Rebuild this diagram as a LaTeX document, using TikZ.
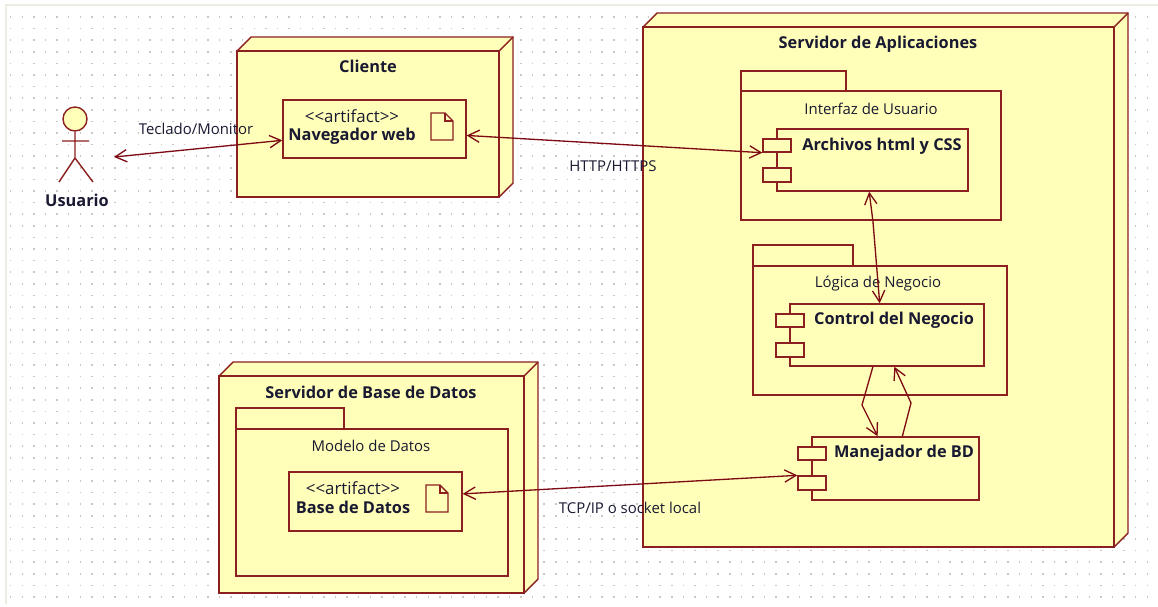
\documentclass[tikz,border=0pt]{standalone}
\usepackage{fontspec}
\setmainfont{Open Sans}
\usetikzlibrary{arrows.meta,fit}
\definecolor{umlfill}{RGB}{255,255,185}
\definecolor{umlline}{RGB}{140,32,32}
\definecolor{umlarrow}{RGB}{125,10,20}
\definecolor{umltext}{RGB}{25,25,50}
\definecolor{griddot}{RGB}{200,200,190}
\definecolor{canvasedge}{RGB}{236,236,226}
\tikzset{
  umlbox/.style={draw=umlline,fill=umlfill,line width=0.8pt,inner sep=0pt,rectangle},
  umlname/.style={font=\fontsize{9.3}{10}\selectfont\bfseries,text=umltext,inner sep=0pt},
  umlplain/.style={font=\fontsize{8.5}{9}\selectfont,text=umltext,inner sep=0pt},
  umlstereo/.style={font=\fontsize{9.6}{10}\selectfont,text=umltext,inner sep=0pt},
  link/.style={umlarrow,line width=0.75pt},
  biarrow/.style={link,{Straight Barb[length=6.5pt,width=7pt]}-{Straight Barb[length=6.5pt,width=7pt]}},
  onearrow/.style={link,-{Straight Barb[length=6.5pt,width=7pt]}}
}
% name, left, top, right, bottom
\newcommand{\boxat}[5]{\node[umlbox,fit={(#2,#3) (#4,#5)}] (#1) {};}
% 3d node: the back faces first, then the front
\newcommand{\solidat}[5]{
  \draw[umlbox] (#2,#3) -- (#2+14,#3-14) -- (#4+14,#3-14) -- (#4+14,#5-14) -- (#4,#5) -- cycle;
  \draw[umlbox] (#4,#3) -- (#4+14,#3-14);
  \boxat{#1}{#2}{#3}{#4}{#5}
}
% component: body and its two ports
\newcommand{\compat}[5]{
  \boxat{#1}{#2}{#3}{#4}{#5}
  \boxat{#1p}{#2-14}{#3+10}{#2+14}{#3+23}
  \boxat{#1q}{#2-14}{#3+39}{#2+14}{#3+53}
}
% document icon
\newcommand{\docicon}[2]{
  \draw[umlbox] (#1,#2) -- (#1+14,#2) -- (#1+22,#2+8) -- (#1+22,#2+27) -- (#1,#2+27) -- cycle;
  \draw[umlline,line width=0.8pt] (#1+14,#2) -- (#1+14,#2+8) -- (#1+22,#2+8);
}
\begin{document}
\begin{tikzpicture}[x=0.02cm,y=-0.02cm]
  \useasboundingbox (0,0) rectangle (1158,606);
  \fill[white] (0,0) rectangle (1158,606);
  % canvas
  \draw[canvasedge,line width=1pt] (6,604) -- (6,5) -- (1158,5);
  \foreach \j in {0,...,50}
    \draw[griddot,line width=0.03cm,dash pattern=on 0.03cm off 0.202cm] (10,17+11.6*\j) -- (1158,17+11.6*\j);

  % actor
  \node[umlbox,circle,minimum size=0.48cm] (head) at (75,119) {};
  \coordinate (hip) at (75,158);
  \coordinate (armL) at (62,141);
  \coordinate (armR) at (89,141);
  \coordinate (legL) at (59,182);
  \coordinate (legR) at (93,182);
  \draw[umlline,line width=0.8pt] (head.south) -- (hip) (armL) -- (armR) (legL) -- (hip) -- (legR);
  \node[umlname] (usuario) at (77,200) {Usuario};
  \coordinate (usuarioEnd) at (114,157);

  % cliente
  \solidat{cliente}{237}{51}{499}{197}
  \node[umlname] (clienteName) at (368,66) {Cliente};
  \boxat{nav}{283}{100}{466}{158}
  \node[umlstereo] (navStereo) at (352,116) {<{}<artifact>{}>};
  \node[umlname] (navName) at (352,136) {Navegador web};
  \docicon{431}{113}

  % servidor de aplicaciones
  \solidat{apps}{643}{27}{1114}{547}
  \node[umlname] (appsName) at (878,44) {Servidor de Aplicaciones};

  \boxat{uiTab}{741}{71}{846}{91}
  \boxat{ui}{741}{91}{1001}{220}
  \node[umlplain] (uiName) at (871,109) {Interfaz de Usuario};
  \compat{arch}{777}{129}{968}{191}
  \node[umlname] (archName) at (882,146) {Archivos html y CSS};

  \boxat{logicTab}{753}{245}{853}{266}
  \boxat{logic}{753}{266}{1007}{395}
  \node[umlplain] (logicName) at (878,284) {Lógica de Negocio};
  \compat{ctrl}{790}{304}{984}{366}
  \node[umlname] (ctrlName) at (894,320) {Control del Negocio};

  \compat{man}{812}{437}{979}{500}
  \node[umlname] (manName) at (904,453) {Manejador de BD};

  % servidor de base de datos
  \solidat{bd}{219}{376}{524}{593}
  \node[umlname] (bdName) at (371,392) {Servidor de Base de Datos};
  \boxat{modelTab}{236}{408}{344}{429}
  \boxat{model}{236}{429}{508}{576}
  \node[umlplain] (modelName) at (371,446) {Modelo de Datos};
  \boxat{base}{289}{472}{462}{531}
  \node[umlstereo] (baseStereo) at (353,488) {<{}<artifact>{}>};
  \node[umlname] (baseName) at (353,507) {Base de Datos};
  \docicon{426}{485}

  % connectors
  \draw[biarrow] (usuarioEnd) -- (nav.187);
  \node[umlplain] (tecladoLabel) at (196,129) {Teclado/Monitor};
  \draw[biarrow] (nav.-4) -- (archp.south west);
  \node[umlplain] (httpLabel) at (613,166) {HTTP/HTTPS};
  \coordinate (archBend) at (873,222);
  \draw[biarrow] (arch.264) -- (archBend) -- (ctrl.103);
  \coordinate (downBend) at (862,405);
  \coordinate (upBend) at (911,403);
  \draw[onearrow] (ctrl.-114) -- (downBend) -- (man.119);
  \draw[onearrow] (man.78) -- (upBend) -- (ctrl.-77);
  \draw[biarrow] (base.5) -- (manq.north west);
  \node[umlplain] (tcpLabel) at (630,508) {TCP/IP o socket local};
\end{tikzpicture}
\end{document}
